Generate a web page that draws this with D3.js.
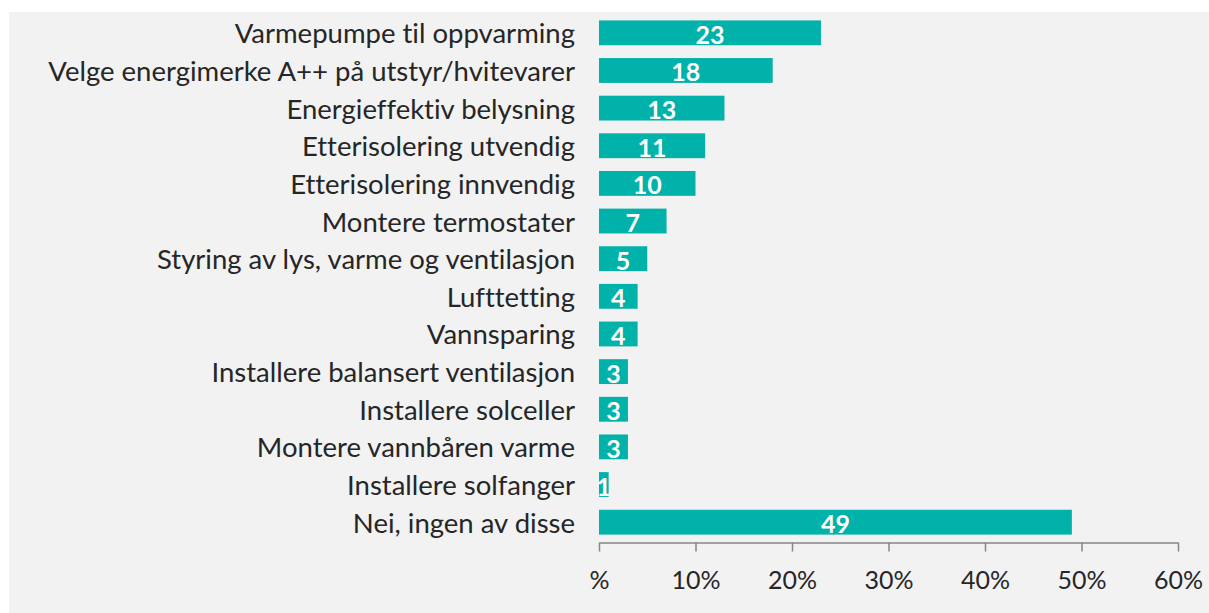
<!DOCTYPE html>
<html><head><meta charset="utf-8">
<script src="https://cdn.jsdelivr.net/npm/d3@7"></script>
<style>html,body{margin:0;padding:0;background:#fff;}svg{display:block;}text{font-variant-ligatures:none;font-feature-settings:"liga" 0,"clig" 0;}</style>
</head><body><svg id="c" width="1209" height="613"></svg>
<script>
const categories = ["Varmepumpe til oppvarming","Velge energimerke A++ på utstyr/hvitevarer","Energieffektiv belysning","Etterisolering utvendig","Etterisolering innvendig","Montere termostater","Styring av lys, varme og ventilasjon","Lufttetting","Vannsparing","Installere balansert ventilasjon","Installere solceller","Montere vannbåren varme","Installere solfanger","Nei, ingen av disse"];
const values = [23,18,13,11,10,7,5,4,4,3,3,3,1,49];
const tickValues = [0,10,20,30,40,50,60];
const tickLabels = ["%","10%","20%","30%","40%","50%","60%"];

const svg = d3.select("#c");
svg.append("rect").attr("x",9).attr("y",12).attr("width",1200).attr("height",601).attr("fill","#f2f2f2");
const x = d3.scaleLinear().domain([0,60]).range([599,1178]);
const y = d3.scaleBand().domain(categories).range([14,541]).paddingInner(0.34).paddingOuter(0.17);
const font = "Lato, 'Open Sans', sans-serif";

svg.selectAll("rect.bar").data(values).join("rect").attr("class","bar")
  .attr("x",x(0)).attr("y",(d,i)=>y(categories[i])).attr("width",d=>x(d)-x(0)).attr("height",y.bandwidth())
  .attr("fill","#00b2a9");
svg.selectAll("text.val").data(values).join("text").attr("class","val")
  .attr("x",d=>(x(0)+x(d))/2).attr("y",(d,i)=>y(categories[i])+y.bandwidth()/2+1)
  .attr("text-anchor","middle").attr("dominant-baseline","central")
  .attr("font-family",font).attr("font-weight","bold").attr("font-size",25).attr("fill","#fff")
  .text(d=>d);
svg.selectAll("text.cat").data(categories).join("text").attr("class","cat")
  .attr("x",575).attr("y",d=>y(d)+y.bandwidth()/2)
  .attr("text-anchor","end").attr("dominant-baseline","central")
  .attr("font-family",font).attr("font-size",27.5).attr("fill","#262626").text(d=>d);

const axis = d3.axisBottom(x).tickValues(tickValues).tickFormat((d,i)=>tickLabels[i]).tickSize(9).tickSizeOuter(0);
const g = svg.append("g").attr("transform","translate(0,542.5)").call(axis);
g.select(".domain").attr("stroke","#868686").attr("stroke-width",1.5);
g.selectAll(".tick line").attr("stroke","#868686").attr("stroke-width",1.5);
g.selectAll(".tick text").attr("font-family",font).attr("font-size",25).attr("fill","#262626").attr("dy",0).attr("y",46);
</script></body></html>
